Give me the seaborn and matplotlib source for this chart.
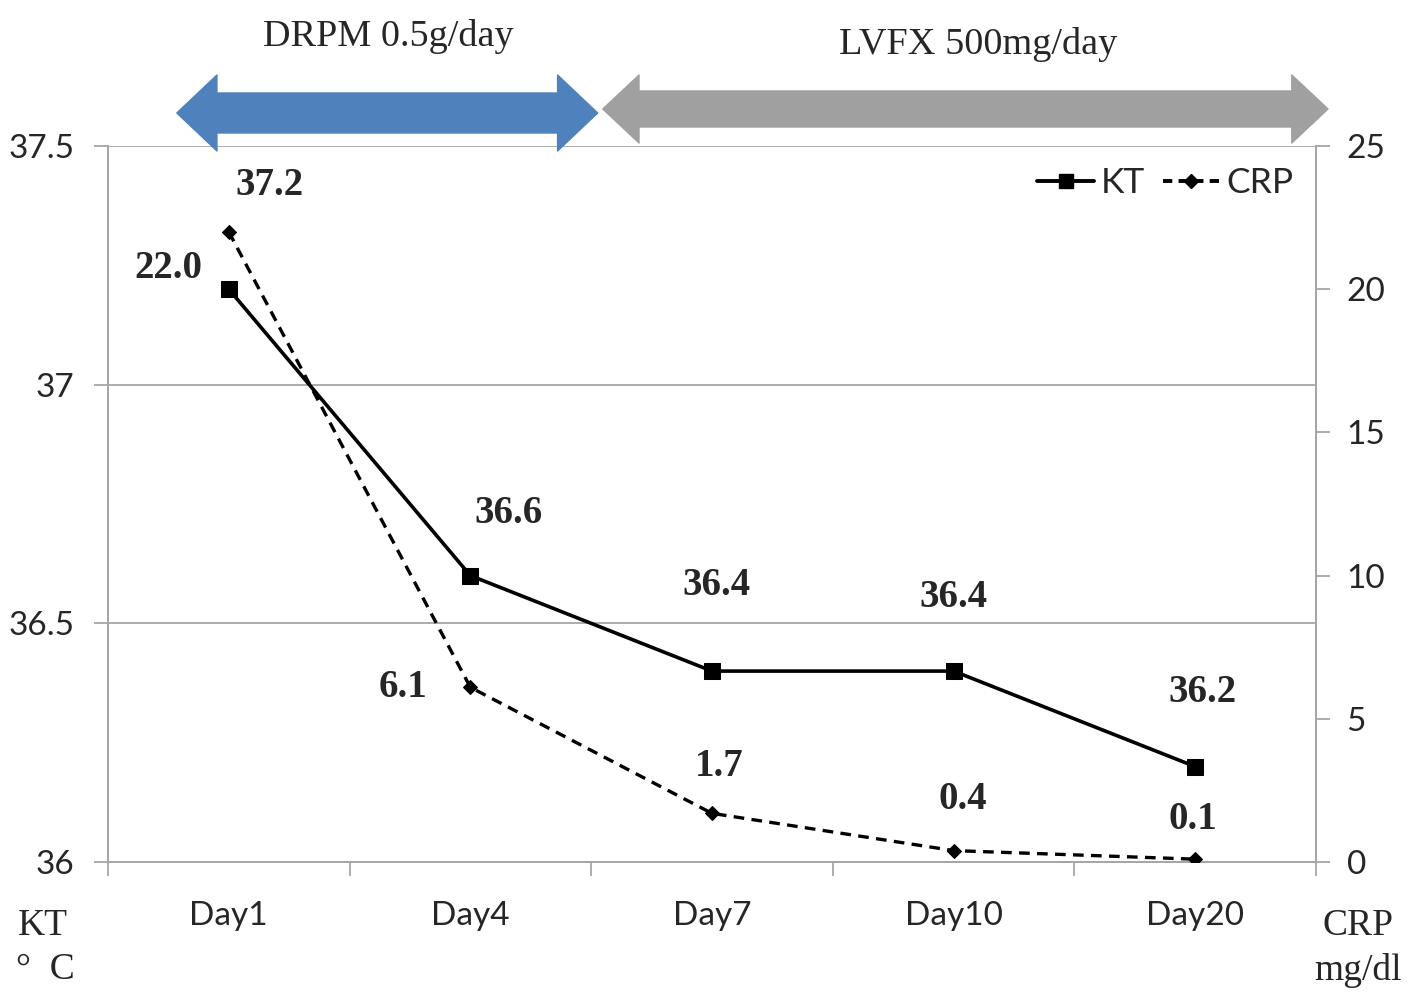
import matplotlib
matplotlib.use("Agg")
import matplotlib.pyplot as plt
import seaborn as sns
import pandas as pd
from matplotlib.patches import Polygon
from matplotlib.lines import Line2D
import matplotlib.transforms as mtransforms

days = ["Day1", "Day4", "Day7", "Day10", "Day20"]
kt = [37.2, 36.6, 36.4, 36.4, 36.2]
crp = [22.0, 6.1, 1.7, 0.4, 0.1]
kt_labels = ["22.0", "36.6", "36.4", "36.4", "36.2"]
crp_labels = ["37.2", "6.1", "1.7", "0.4", "0.1"]
left_ticks = [36, 36.5, 37, 37.5]
right_ticks = [0, 5, 10, 15, 20, 25]

sns.set_theme(style="white")
plt.rcParams["font.family"] = ["Lato", "DejaVu Sans"]

fig = plt.figure(figsize=(14.17, 10.06), dpi=100)
ax = fig.add_axes([0.0762, 0.1431, 0.8525, 0.7118])
ax2 = ax.twinx()

x = list(range(len(days)))
df = pd.DataFrame({"x": x, "KT": kt, "CRP": crp})

sns.lineplot(data=df, x="x", y="KT", ax=ax, color="black", lw=2.6,
             marker="s", markersize=11, markeredgecolor="black", zorder=5)
sns.lineplot(data=df, x="x", y="CRP", ax=ax2, color="black", lw=2.4,
             linestyle=(0, (3.2, 2.2)), marker="D", markersize=7,
             markeredgecolor="black", zorder=5)

ax.set_xlim(-0.5, 4.5)
ax.set_ylim(36, 37.5)
ax2.set_ylim(0, 25)
ax.set_xlabel("")
ax.set_ylabel("")
ax2.set_ylabel("")

grid_c = "#a6a6a6"
ax.set_yticks(left_ticks)
ax.set_yticklabels(["36", "36.5", "37", "37.5"])
ax.yaxis.grid(True, color=grid_c, lw=1.3)
ax.set_axisbelow(True)
ax2.set_yticks(right_ticks)
ax2.set_yticklabels([str(t) for t in right_ticks])
ax2.yaxis.grid(False)

ax.set_xticks(x)
ax.set_xticklabels(days)
ax.set_xticks([i - 0.5 for i in range(len(days) + 1)], minor=True)
ax.tick_params(axis="x", which="major", length=0, pad=28, labelsize=24)
ax.tick_params(axis="x", which="minor", length=10, width=1.3, color=grid_c, direction="out", bottom=True)
ax.tick_params(axis="y", length=10, width=1.3, color=grid_c, direction="out", left=True, labelsize=24, pad=14)
ax2.tick_params(axis="y", length=10, width=1.3, color=grid_c, direction="out", right=True, labelsize=24, pad=12)

for a in (ax, ax2):
    a.spines["top"].set_visible(False)
    for s in ["left", "right", "bottom"]:
        a.spines[s].set_color(grid_c)
        a.spines[s].set_linewidth(1.3)

serif = ["Liberation Serif", "DejaVu Serif"]
lab_kw = dict(fontsize=28, fontweight="bold", family=serif, ha="center", va="center")
kt_off = [(-0.25, 37.243), (0.16, 36.73), (0.02, 36.58), (0.0, 36.555), (0.03, 36.355)]
for i, (dx, yy) in enumerate(kt_off):
    ax.text(i + dx, yy, kt_labels[i], **lab_kw)
crp_off = [(0.17, 37.418), (-0.28, 36.365), (0.03, 36.2), (0.04, 36.13), (-0.01, 36.09)]
for i, (dx, yy) in enumerate(crp_off):
    ax.text(i + dx, yy, crp_labels[i], **lab_kw)

# arrows
trans = mtransforms.blended_transform_factory(ax.transData, fig.transFigure)
def H(py):
    return 1 - py / 1006.0
def arrow(x0, x1, head, y_top, y_bot, s_top, s_bot, color):
    ym = (y_top + y_bot) / 2
    pts = [(x0, H(ym)), (x0 + head, H(y_top)), (x0 + head, H(s_top)),
           (x1 - head, H(s_top)), (x1 - head, H(y_top)), (x1, H(ym)),
           (x1 - head, H(y_bot)), (x1 - head, H(s_bot)), (x0 + head, H(s_bot)),
           (x0 + head, H(y_bot))]
    p = Polygon(pts, closed=True, transform=trans, facecolor=color,
                edgecolor=color, lw=1, clip_on=False, joinstyle="round")
    fig.add_artist(p)
arrow(-0.215, 1.527, 0.166, 75, 151, 93, 133, "#4f81bd")
arrow(1.548, 4.55, 0.15, 75, 143, 91, 127, "#a0a0a0")

fig.text(388 / 1417, H(37), "DRPM 0.5g/day", family=serif, fontsize=27.5, ha="center", va="center")
fig.text(978 / 1417, H(44), "LVFX 500mg/day", family=serif, fontsize=27.5, ha="center", va="center")
fig.text(43 / 1417, H(926), "KT", family=serif, fontsize=27, ha="center", va="center")
fig.text(45 / 1417, H(970), "°  C", family=serif, fontsize=27, ha="center", va="center")
fig.text(1358 / 1417, H(926), "CRP", family=serif, fontsize=27, ha="center", va="center")
fig.text(1358 / 1417, H(970), "mg/dl", family=serif, fontsize=27, ha="center", va="center")

handles = [Line2D([], [], color="black", lw=2.8, marker="s", markersize=10),
           Line2D([], [], color="black", lw=2.8, linestyle=(0, (2.4, 1.6)), marker="D", markersize=7)]
ax.legend(handles, ["KT", "CRP"], loc="upper right", ncol=2, frameon=False,
          fontsize=25.5, handlelength=1.6, handletextpad=0.2, columnspacing=0.5,
          bbox_to_anchor=(1.008, 1.015))
if ax2.get_legend():
    ax2.get_legend().remove()

fig.savefig("out.png", dpi=100, facecolor="white")
